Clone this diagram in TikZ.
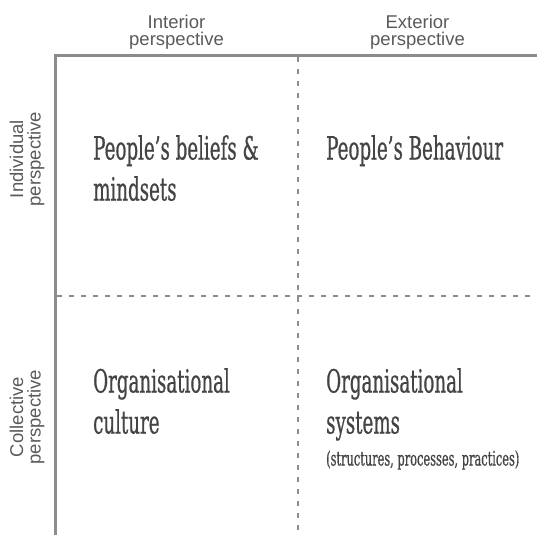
\documentclass[tikz,border=0pt]{standalone}
\usepackage{fontspec}
\usepackage{xcolor}
\usepackage{tikz}
\usetikzlibrary{positioning,calc}

\setmainfont{Liberation Sans}
\newfontfamily\slabfont[FakeStretch=0.57,FakeBold=0.6]{DejaVu Serif}

\definecolor{axisgray}{HTML}{8C8C8C}
\definecolor{labelgray}{HTML}{5A5A5A}
\definecolor{quadgray}{HTML}{444444}

\begin{document}
\begin{tikzpicture}[
    x=1pt, y=-1pt,
    axis/.style={
        draw=axisgray,
        line width=3pt
    },
    divider/.style={
        draw=axisgray,
        line width=2pt,
        dash pattern=on 5pt off 7pt
    },
    persp/.style={
        font=\fontsize{18.5}{17.5}\selectfont,
        text=labelgray,
        align=center,
        inner sep=0pt
    },
    quadrant/.style={
        font=\slabfont\fontsize{32}{41}\selectfont,
        text=quadgray,
        align=left,
        anchor=north west,
        inner sep=0pt
    }
]
\useasboundingbox (0,0) rectangle (537,535);

% =========================================
% Frame corners and grid
% =========================================
\coordinate (corner) at (55.5,55);
\coordinate (topend) at (537,55);
\coordinate (leftend) at (55.5,535);
\coordinate (midtop) at (298,57);
\coordinate (midbottom) at (298,535);
\coordinate (midleft) at (57,296);
\coordinate (midright) at (537,296);

% dashed dividers between the four fields
\draw[divider] (midtop) -- (midbottom);
\draw[divider] (midleft) -- (midright);

% solid axes
\draw[axis] (topend) -- (corner) -- (leftend);

% =========================================
% Perspective labels
% =========================================
\node[persp] (interior) at (176.5,32) {Interior\\perspective};
\node[persp] (exterior) at (417.5,32) {Exterior\\perspective};
\node[persp, rotate=90] (individual) at (27,159) {Individual\\perspective};
\node[persp, rotate=90] (collective) at (27,417) {Collective\\perspective};

% =========================================
% Quadrants
% =========================================
\node[quadrant] (beliefs) at (93,135) {People’s beliefs \&\\mindsets};
\node[quadrant] (behaviour) at (326,135) {People’s Behaviour};
\node[quadrant] (culture) at (93,368) {Organisational\\culture};
\node[quadrant] (systems) at (326,368) {Organisational\\systems\\[-9pt]
    {\fontsize{20}{22}\selectfont (structures, processes, practices)}};

\end{tikzpicture}
\end{document}
